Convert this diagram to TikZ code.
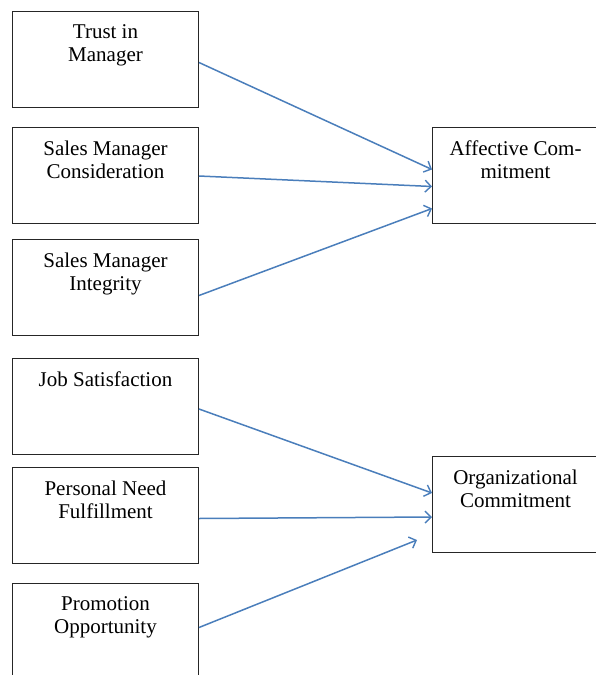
\documentclass[tikz,border=0pt]{standalone}
\usepackage{fontspec}
\setmainfont{Liberation Serif}
\usetikzlibrary{arrows.meta}
\definecolor{arrowblue}{RGB}{74,126,187}
\tikzset{
  box/.style={draw=black!85, line width=1pt, minimum width=#1, minimum height=96pt, inner sep=0pt, anchor=north west},
  box/.default=186pt,
  lbl/.style={anchor=north, inner sep=0pt, align=center, font=\fontsize{21}{23}\selectfont},
  conn/.style={draw=arrowblue, line width=1.5pt, -{Straight Barb[length=6pt,width=12pt,line width=1.4pt]}}
}
\begin{document}
\begin{tikzpicture}[x=1pt,y=-1pt]
\useasboundingbox (0,0) rectangle (596,675);
\clip (0,0) rectangle (596,675);
% left boxes
\node[box] (trust) at (12,11) {};
\node[box] (cons) at (12,127) {};
\node[box] (integ) at (12,239) {};
\node[box] (job) at (12,358) {};
\node[box] (pers) at (12,467) {};
\node[box] (prom) at (12,583) {};
% right boxes
\node[box=166pt] (aff) at (432,127) {};
\node[box=166pt] (org) at (432,456) {};
% labels
\node[lbl] (t1) at ([yshift=-13.5pt]trust.north) {Trust in\\Manager};
\node[lbl] (t2) at ([yshift=-13.5pt]cons.north) {Sales Manager\\Consideration};
\node[lbl] (t3) at ([yshift=-13.5pt]integ.north) {Sales Manager\\Integrity};
\node[lbl] (t4) at ([yshift=-13.5pt]job.north) {Job Satisfaction};
\node[lbl] (t5) at ([yshift=-13.5pt]pers.north) {Personal Need\\Fulfillment};
\node[lbl] (t6) at ([yshift=-13.5pt]prom.north) {Promotion\\Opportunity};
\node[lbl] (t7) at ([yshift=-13.5pt]aff.north) {Affective Com-\\mitment};
\node[lbl] (t8) at ([yshift=-13.5pt]org.north) {Organizational\\Commitment};
% connectors
\draw[conn] ([yshift=-3pt]trust.east) -- ([yshift=6pt]aff.west);
\draw[conn] ([yshift=-0.5pt]cons.east) -- ([yshift=-11pt]aff.west);
\draw[conn] ([yshift=-8pt]integ.east) -- ([yshift=-33pt]aff.west);
\draw[conn] ([yshift=-2.5pt]job.east) -- ([yshift=11.5pt]org.west);
\draw[conn] ([yshift=-3pt]pers.east) -- ([yshift=-12.5pt]org.west);
\draw[conn] ([yshift=4pt]prom.east) -- ([xshift=-15pt,yshift=-35.5pt]org.west);
\end{tikzpicture}
\end{document}
